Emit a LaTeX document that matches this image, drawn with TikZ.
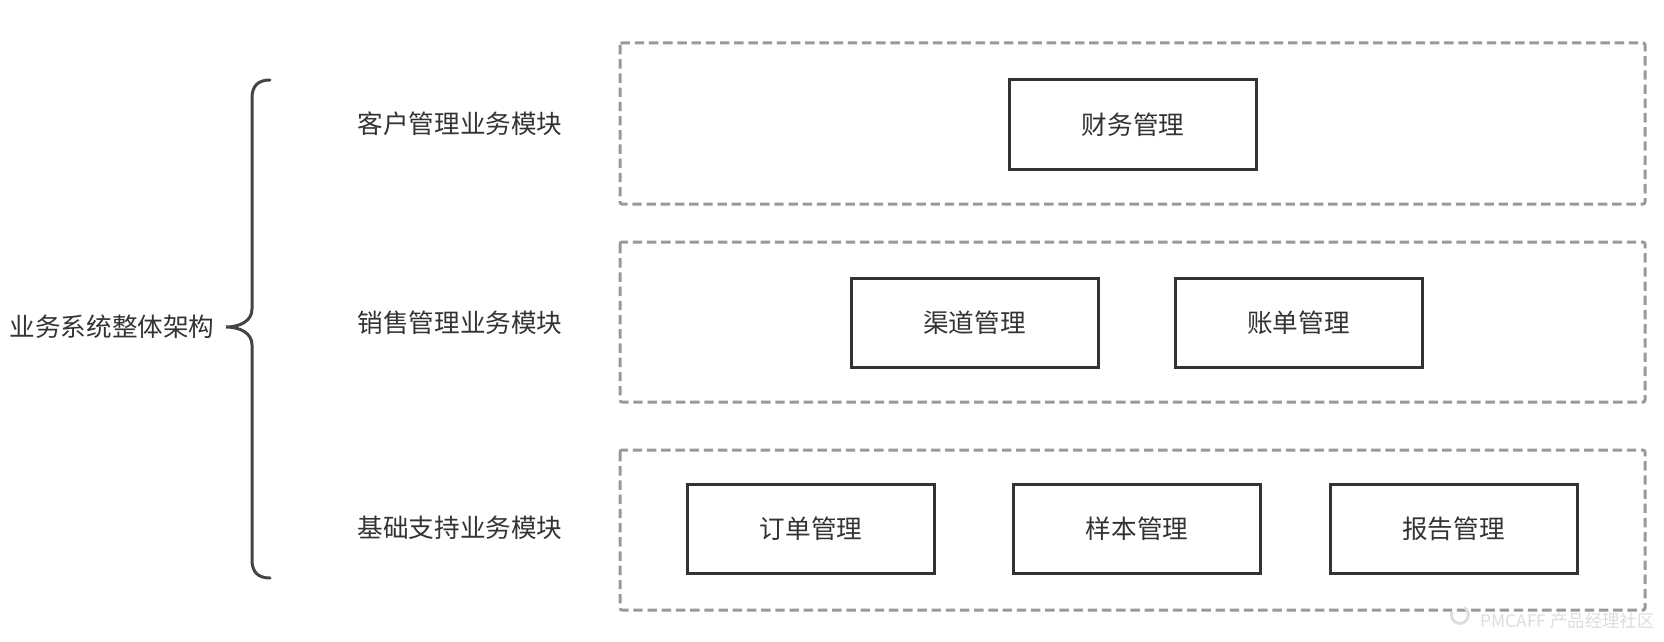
\documentclass[tikz,border=0pt]{standalone}
\usepackage{fontspec}
\setmainfont{Noto Sans CJK SC}
\definecolor{txt}{HTML}{333333}
\definecolor{boxc}{HTML}{333333}
\definecolor{dashc}{HTML}{999999}
\definecolor{bracec}{HTML}{444444}
\definecolor{wm}{HTML}{DDDDDD}
\begin{document}
\begin{tikzpicture}[x=0.5pt,y=-0.5pt,
  every node/.style={font=\fontsize{12.8pt}{15pt}\selectfont, text=txt},
  modbox/.style={draw=boxc, line width=1.5pt, minimum width=123.5pt, minimum height=44.5pt, inner sep=0pt},
  layer/.style={draw=dashc, line width=1.5pt, dash pattern=on 4.7pt off 2.4pt, rounded corners=1pt},
  lbl/.style={inner sep=0pt},
  bracestyle/.style={draw=bracec, line width=1.5pt, line cap=round}]
\useasboundingbox (0,0) rectangle (1664,642);
% layers
\draw[layer] (620,43) rectangle (1645,204);
\draw[layer] (620,242) rectangle (1645,402);
\draw[layer] (620,450) rectangle (1645,610);
% modules
\node[modbox] (caiwu) at (1133,124.5) {财务管理};
\node[modbox] (qudao) at (974.5,323) {渠道管理};
\node[modbox] (zhangdan) at (1298.5,323) {账单管理};
\node[modbox] (dingdan) at (811,529) {订单管理};
\node[modbox] (yangben) at (1137,529) {样本管理};
\node[modbox] (baogao) at (1453.5,529) {报告管理};
% layer labels
\node[lbl] (l1) at (460,124) {客户管理业务模块};
\node[lbl] (l2) at (460,323) {销售管理业务模块};
\node[lbl] (l3) at (460,528) {基础支持业务模块};
\node[lbl] (root) at (112,327) {业务系统整体架构};
% brace
\coordinate (btop) at (270,80);
\coordinate (bbot) at (270,578);
\coordinate (btip) at (226,327);
\draw[bracestyle] (btop) .. controls (258,80) and (252,86) .. (252,98) -- (252,309)
  .. controls (252,321) and (240,327) .. (btip)
  .. controls (240,327) and (252,333) .. (252,345) -- (252,560)
  .. controls (252,572) and (258,578) .. (bbot);
% watermark
\node[lbl, text=wm, font=\fontsize{8.7pt}{10pt}\selectfont, anchor=east] (wmk) at (1655,621) {PMCAFF 产品经理社区};
\draw[wm, line width=1.4pt] ([xshift=-14pt,yshift=4.5pt]wmk.west) arc[start angle=200, end angle=-60, radius=8.5];
\end{tikzpicture}
\end{document}
